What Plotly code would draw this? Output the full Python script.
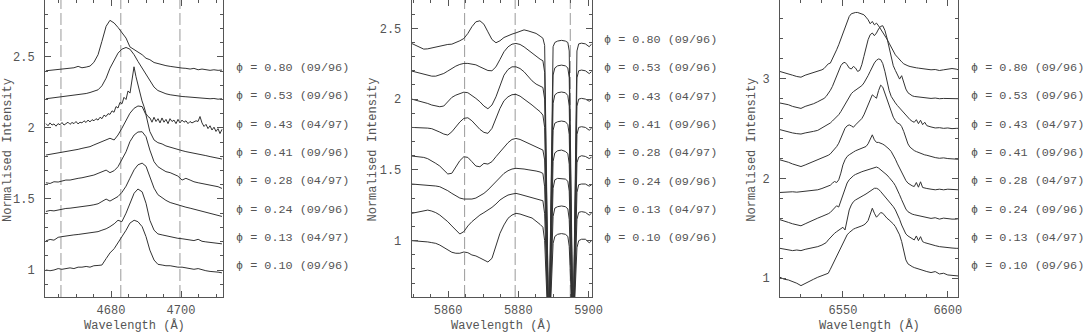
import plotly.graph_objects as go

W, H = 1084, 335
FONT = "Liberation Mono, DejaVu Sans Mono"
INK = "#333333"
FRAME = "#555555"
TEXT = "#555555"
DASH = "#9a9a9a"

# spectra listed from the bottom one to the top one
PHASES = ["0.10", "0.13", "0.24", "0.28", "0.41", "0.43", "0.53", "0.80"]
EPOCHS = ["09/96", "04/97", "09/96", "04/97", "09/96", "04/97", "09/96", "09/96"]

# ---------------- He II 4686 ----------------
WAVE_HEII = [4661.4, 4662.6, 4663.7, 4664.9, 4666.0, 4667.1, 4668.3, 4669.4, 4670.6, 4671.7,
             4672.9, 4674.0, 4675.1, 4676.3, 4677.4, 4678.6, 4679.7, 4680.9, 4682.0, 4683.1,
             4684.3, 4685.4, 4686.6, 4687.7, 4688.9, 4690.0, 4691.1, 4692.3, 4693.4, 4694.6,
             4695.7, 4696.9, 4698.0, 4699.1, 4700.3, 4701.4, 4702.6, 4703.7, 4704.9, 4706.0,
             4707.1, 4708.3, 4709.4, 4710.6, 4711.7]
WAVE_HEII_FINE = [4661.43, 4662.00, 4662.57, 4663.14, 4663.71, 4664.29, 4664.86, 4665.43, 4666.00, 4666.57,
                  4667.14, 4667.71, 4668.29, 4668.86, 4669.43, 4670.00, 4670.57, 4671.14, 4671.71, 4672.29,
                  4672.86, 4673.43, 4674.00, 4674.57, 4675.14, 4675.71, 4676.29, 4676.86, 4677.43, 4678.00,
                  4678.57, 4679.14, 4679.71, 4680.29, 4680.86, 4681.43, 4682.00, 4682.57, 4683.14, 4683.71,
                  4684.29, 4684.86, 4685.43, 4686.00, 4686.57, 4687.14, 4687.71, 4688.29, 4688.86, 4689.43,
                  4690.00, 4690.57, 4691.14, 4691.71, 4692.29, 4692.86, 4693.43, 4694.00, 4694.57, 4695.14,
                  4695.71, 4696.29, 4696.86, 4697.43, 4698.00, 4698.57, 4699.14, 4699.71, 4700.29, 4700.86,
                  4701.43, 4702.00, 4702.57, 4703.14, 4703.71, 4704.29, 4704.86, 4705.43, 4706.00, 4706.57,
                  4707.14, 4707.71, 4708.29, 4708.86, 4709.43, 4710.00, 4710.57, 4711.14, 4711.71]

HEII_010 = [1.00, 0.995, 1.00, 1.01, 1.005, 1.01, 1.015, 1.01, 1.02, 1.02,
            1.025, 1.02, 1.03, 1.032, 1.035, 1.08, 1.12, 1.15, 1.19, 1.235,
            1.28, 1.33, 1.35, 1.34, 1.305, 1.235, 1.14, 1.07, 1.04, 1.035,
            1.03, 1.03, 1.025, 1.02, 1.02, 1.015, 1.01, 1.005, 1.01, 1.0,
            0.995, 0.99, 0.99, 0.985, 0.98]
HEII_013 = [1.005, 1.015, 1.01, 1.03, 1.035, 1.04, 1.045, 1.047, 1.05, 1.054,
            1.06, 1.06, 1.065, 1.07, 1.08, 1.09, 1.105, 1.125, 1.15, 1.14,
            1.2, 1.27, 1.34, 1.37, 1.35, 1.27, 1.15, 1.08, 1.054, 1.047,
            1.04, 1.035, 1.03, 1.023, 1.02, 1.016, 1.012, 1.007, 1.016, 1.002,
            0.998, 0.995, 0.993, 0.99, 0.984]
HEII_024 = [1.012, 1.019, 1.016, 1.023, 1.028, 1.033, 1.035, 1.038, 1.042, 1.047,
            1.05, 1.054, 1.059, 1.066, 1.082, 1.099, 1.085, 1.1, 1.117, 1.146,
            1.19, 1.246, 1.305, 1.34, 1.352, 1.33, 1.26, 1.176, 1.13, 1.106,
            1.09, 1.075, 1.066, 1.056, 1.047, 1.042, 1.035, 1.028, 1.023, 1.014,
            1.005, 1.0, 0.995, 0.986, 0.977]
HEII_028 = [1.014, 1.009, 1.021, 1.019, 1.026, 1.033, 1.033, 1.04, 1.045, 1.049,
            1.056, 1.061, 1.068, 1.08, 1.092, 1.103, 1.085, 1.099, 1.127, 1.174,
            1.232, 1.303, 1.35, 1.371, 1.373, 1.338, 1.244, 1.162, 1.127, 1.108,
            1.092, 1.085, 1.075, 1.061, 1.033, 1.045, 1.033, 1.021, 1.014, 1.009,
            1.002, 0.998, 0.991, 0.986, 0.974]
HEII_041 = [1.009, 1.014, 1.021, 1.026, 1.026, 1.033, 1.04, 1.045, 1.049, 1.056,
            1.063, 1.068, 1.08, 1.092, 1.103, 1.12, 1.127, 1.115, 1.15, 1.197,
            1.256, 1.303, 1.338, 1.354, 1.35, 1.291, 1.174, 1.115, 1.096, 1.087,
            1.073, 1.063, 1.054, 1.045, 1.04, 1.033, 1.028, 1.021, 1.016, 1.009,
            1.005, 0.998, 0.993, 0.988, 0.981]
# the 04/97 spectrum is noisier, so it is kept on a finer grid
HEII_043 = [1.030, 1.015, 1.035, 1.020, 1.028, 1.012, 1.030, 1.022, 1.038, 1.020,
            1.030, 1.040, 1.025, 1.038, 1.030, 1.045, 1.028, 1.040, 1.035, 1.050,
            1.038, 1.055, 1.042, 1.058, 1.050, 1.065, 1.055, 1.075, 1.065, 1.090,
            1.080, 1.100, 1.095, 1.120, 1.110, 1.150, 1.140, 1.180, 1.170, 1.215,
            1.200, 1.260, 1.245, 1.330, 1.430, 1.360, 1.300, 1.250, 1.190, 1.150,
            1.100, 1.080, 1.070, 1.040, 1.075, 1.045, 1.065, 1.035, 1.070, 1.040,
            1.060, 1.030, 1.065, 1.045, 1.055, 1.030, 1.060, 1.035, 1.055, 1.040,
            1.050, 1.030, 1.045, 1.035, 1.040, 1.050, 1.045, 1.080, 1.035, 1.010,
            1.025, 0.995, 1.015, 0.985, 1.005, 0.975, 0.995, 0.960, 0.990]
HEII_053 = [1.005, 1.009, 1.012, 1.014, 1.016, 1.021, 1.023, 1.028, 1.033, 1.038,
            1.042, 1.049, 1.056, 1.068, 1.096, 1.15, 1.22, 1.279, 1.326, 1.354,
            1.366, 1.354, 1.315, 1.268, 1.22, 1.174, 1.127, 1.087, 1.063, 1.049,
            1.04, 1.033, 1.028, 1.023, 1.021, 1.019, 1.016, 1.012, 1.014, 1.009,
            1.007, 1.005, 1.007, 1.002, 1.005]
HEII_080 = [1.002, 1.005, 1.009, 1.012, 1.014, 1.016, 1.019, 1.023, 1.033, 1.023,
            1.028, 1.035, 1.061, 1.115, 1.209, 1.315, 1.357, 1.338, 1.307, 1.268,
            1.232, 1.17, 1.15, 1.135, 1.115, 1.09, 1.08, 1.06, 1.052, 1.045,
            1.038, 1.033, 1.028, 1.023, 1.021, 1.019, 1.014, 1.019, 1.009, 1.014,
            1.009, 1.005, 1.009, 1.005, 1.007]
HEII_OFFSETS = [0.0, 0.2, 0.4, 0.6, 0.8, 1.0, 1.2, 1.4]
HEII_MARKS = [4665.7, 4682.8, 4699.7]

# ---------------- He I 5876 + Na D ----------------
WAVE_HEI = [5849.63, 5850.77, 5851.91, 5853.06, 5854.20, 5855.34, 5856.49, 5857.63, 5858.77, 5859.91,
            5861.06, 5862.20, 5863.34, 5864.49, 5865.63, 5866.77, 5867.91, 5869.06, 5870.20, 5871.34,
            5872.49, 5873.63, 5874.77, 5875.91, 5877.06, 5878.20, 5879.34, 5880.49, 5881.63, 5882.77,
            5883.91, 5885.06, 5886.20,
            5887.0, 5887.5, 5888.7, 5889.9, 5890.4, 5891.2, 5892.3, 5893.4, 5894.1, 5894.5,
            5895.6, 5896.7, 5897.2, 5898.0, 5899.1, 5900.2, 5900.9]

HEI_010 = [1.0, 0.998, 1.0, 0.995, 0.991, 0.986, 0.981, 0.969, 0.953, 0.934,
           0.918, 0.911, 0.911, 0.92, 0.915, 0.899, 0.892, 0.878, 0.861, 0.849,
           0.875, 0.958, 1.052, 1.111, 1.158, 1.181, 1.193, 1.188, 1.181, 1.169,
           1.16, 1.14, 1.115,
           1.095, 1.0, 0.25, 0.98, 1.03, 1.045, 1.05, 1.045, 1.03, 0.96,
           0.3, 0.95, 1.0, 1.01, 1.01, 0.985, 1.0]
HEI_013 = [0.993, 0.998, 1.005, 1.012, 1.016, 1.009, 0.998, 0.981, 0.958, 0.934,
           0.904, 0.875, 0.847, 0.864, 0.904, 0.934, 0.958, 0.981, 0.998, 1.016,
           1.035, 1.059, 1.087, 1.106, 1.122, 1.129, 1.134, 1.127, 1.12, 1.111,
           1.106, 1.099, 1.092,
           1.082, 0.99, 0.05, 0.97, 1.03, 1.04, 1.045, 1.04, 1.025, 0.95,
           0.1, 0.95, 1.0, 1.005, 1.0, 0.98, 0.995]
HEI_024 = [1.0, 0.998, 0.998, 0.993, 0.991, 0.988, 0.986, 0.981, 0.969, 0.953,
           0.934, 0.915, 0.901, 0.894, 0.892, 0.894, 0.901, 0.915, 0.934, 0.958,
           0.986, 1.016, 1.047, 1.075, 1.094, 1.106, 1.111, 1.111, 1.106, 1.101,
           1.099, 1.092, 1.085,
           1.075, 0.98, -0.1, 0.97, 1.03, 1.04, 1.04, 1.035, 1.02, 0.95,
           -0.15, 0.94, 0.995, 1.0, 1.0, 0.985, 0.995]
HEI_028 = [0.998, 0.995, 0.993, 0.988, 0.979, 0.965, 0.946, 0.927, 0.899, 0.871,
           0.876, 0.922, 0.965, 0.993, 0.988, 0.958, 0.927, 0.922, 0.946, 0.941,
           0.958, 0.993, 1.028, 1.064, 1.092, 1.115, 1.122, 1.115, 1.101, 1.087,
           1.075, 1.062, 1.05,
           1.04, 0.97, -0.35, 0.96, 1.02, 1.035, 1.04, 1.03, 1.015, 0.94,
           -0.3, 0.95, 0.99, 1.0, 0.995, 0.98, 0.99]
HEI_041 = [1.0, 1.0, 0.998, 0.998, 0.995, 0.991, 0.981, 0.967, 0.953, 0.946,
           0.969, 1.005, 1.038, 1.064, 1.068, 1.047, 1.016, 0.986, 0.965, 0.958,
           0.993, 1.064, 1.134, 1.188, 1.216, 1.231, 1.233, 1.221, 1.202, 1.181,
           1.158, 1.134, 1.111,
           1.087, 1.0, -0.5, 0.98, 1.03, 1.04, 1.045, 1.04, 1.02, 0.95,
           -0.55, 0.95, 1.0, 1.005, 1.0, 0.98, 0.995]
HEI_043 = [1.0, 0.993, 0.986, 0.979, 0.969, 0.958, 0.951, 0.946, 0.951, 0.981,
           1.012, 1.028, 1.04, 1.049, 1.045, 1.028, 1.005, 0.981, 0.951, 0.932,
           0.958, 1.016, 1.099, 1.169, 1.209, 1.228, 1.228, 1.216, 1.193, 1.162,
           1.129, 1.106, 1.092,
           1.082, 1.0, -0.75, 0.97, 1.03, 1.045, 1.05, 1.045, 1.025, 0.95,
           -0.7, 0.95, 1.0, 1.005, 1.0, 0.985, 0.995]
HEI_053 = [0.998, 0.991, 0.981, 0.974, 0.967, 0.962, 0.962, 0.969, 0.981, 0.998,
           1.016, 1.033, 1.045, 1.052, 1.052, 1.049, 1.042, 1.028, 1.014, 1.002,
           1.0, 1.028, 1.08, 1.134, 1.169, 1.188, 1.193, 1.186, 1.169, 1.146,
           1.122, 1.099, 1.082,
           1.071, 0.99, -0.9, 0.97, 1.02, 1.035, 1.04, 1.035, 1.02, 0.95,
           -0.95, 0.95, 1.0, 1.005, 1.0, 0.98, 0.995]
HEI_080 = [0.993, 0.979, 0.962, 0.953, 0.955, 0.962, 0.969, 0.976, 0.981, 0.986,
           0.988, 0.998, 1.012, 1.028, 1.064, 1.111, 1.146, 1.153, 1.129, 1.075,
           1.021, 0.998, 1.012, 1.035, 1.049, 1.059, 1.068, 1.08, 1.089, 1.082,
           1.071, 1.064, 1.045,
           1.03, 0.98, -1.15, 0.97, 1.0, 1.01, 1.015, 1.01, 1.0, 0.94,
           -1.1, 0.94, 0.99, 0.995, 0.99, 0.97, 0.99]
HEI_OFFSETS = [0.0, 0.2, 0.4, 0.6, 0.8, 1.0, 1.2, 1.4]
HEI_MARKS = [5864.7, 5879.1, 5894.8]

# ---------------- H alpha ----------------
WAVE_HA = [6520, 6522, 6524, 6526, 6528, 6530, 6532, 6534, 6536, 6538, 6540,
           6541, 6542, 6543, 6544, 6545, 6546, 6547, 6548, 6549, 6550,
           6551, 6552, 6553, 6554, 6555, 6556, 6557, 6558, 6559, 6560,
           6561, 6562, 6563, 6564, 6565, 6566, 6567, 6568, 6569, 6570,
           6571, 6572, 6573, 6574, 6575, 6576, 6577, 6578, 6579, 6580,
           6581, 6582, 6583, 6584, 6585, 6586, 6587, 6588, 6589, 6590,
           6592, 6594, 6596, 6598, 6600, 6602, 6604, 6605]

HA_010 = [1.01, 0.99, 0.983, 0.967, 0.95, 0.926, 0.95, 0.973, 0.99, 1.01, 1.023,
          1.03, 1.043, 1.05, 1.09, 1.134, 1.177, 1.224, 1.268, 1.311, 1.358,
          1.401, 1.435, 1.458, 1.478, 1.492, 1.502, 1.508, 1.518, 1.525, 1.535,
          1.552, 1.579, 1.635, 1.702, 1.652, 1.612, 1.635, 1.659, 1.652, 1.625,
          1.602, 1.585, 1.569, 1.545, 1.518, 1.478, 1.435, 1.368, 1.268, 1.184,
          1.144, 1.127, 1.117, 1.107, 1.1, 1.09, 1.085, 1.077, 1.072, 1.067,
          1.057, 1.067, 1.043, 1.05, 1.033, 1.03, 1.023, 1.023]
HA_013 = [1.0, 0.99, 0.983, 0.977, 0.983, 0.977, 0.99, 0.997, 1.01, 1.017, 1.033,
          1.043, 1.057, 1.084, 1.11, 1.134, 1.151, 1.167, 1.184, 1.201, 1.211,
          1.184, 1.301, 1.385, 1.435, 1.468, 1.485, 1.495, 1.505, 1.518, 1.533,
          1.545, 1.559, 1.579, 1.592, 1.602, 1.602, 1.592, 1.569, 1.545, 1.518,
          1.492, 1.468, 1.445, 1.418, 1.385, 1.344, 1.291, 1.234, 1.184, 1.144,
          1.124, 1.11, 1.1, 1.084, 1.124, 1.077, 1.117, 1.067, 1.057, 1.05,
          1.037, 1.027, 1.017, 1.01, 1.007, 1.003, 1.0, 1.0]
HA_024 = [0.987, 0.97, 0.96, 0.946, 0.936, 0.926, 0.946, 0.967, 0.987, 1.003, 1.02,
          1.027, 1.037, 1.047, 1.06, 1.08, 1.104, 1.127, 1.114, 1.171, 1.237,
          1.304, 1.355, 1.388, 1.411, 1.428, 1.441, 1.452, 1.462, 1.468, 1.475,
          1.482, 1.488, 1.495, 1.505, 1.515, 1.515, 1.505, 1.488, 1.472, 1.455,
          1.435, 1.411, 1.388, 1.361, 1.328, 1.288, 1.237, 1.187, 1.137, 1.094,
          1.067, 1.054, 1.043, 1.037, 1.033, 1.027, 1.023, 1.02, 1.017, 1.013,
          1.0, 1.007, 0.993, 1.003, 0.997, 0.993, 0.993, 0.997]
HA_028 = [0.96, 0.963, 0.96, 0.967, 0.963, 0.967, 0.97, 0.977, 0.98, 0.987, 1.0,
          1.007, 1.013, 1.02, 1.033, 1.054, 1.07, 1.06, 1.087, 1.154, 1.237,
          1.288, 1.321, 1.338, 1.355, 1.365, 1.378, 1.388, 1.398, 1.405, 1.411,
          1.421, 1.448, 1.495, 1.538, 1.488, 1.462, 1.462, 1.455, 1.445, 1.431,
          1.415, 1.395, 1.371, 1.338, 1.294, 1.247, 1.204, 1.161, 1.12, 1.08,
          1.054, 1.037, 1.027, 1.02, 1.06, 1.013, 1.067, 1.01, 1.003, 1.0,
          0.993, 0.987, 0.993, 0.987, 0.993, 0.99, 0.987, 0.987]
HA_041 = [0.987, 0.977, 0.963, 0.946, 0.93, 0.92, 0.936, 0.953, 0.97, 0.987, 1.003,
          1.013, 1.02, 1.033, 1.047, 1.07, 1.094, 1.12, 1.154, 1.204, 1.261,
          1.304, 1.328, 1.338, 1.328, 1.314, 1.338, 1.361, 1.381, 1.401, 1.438,
          1.488, 1.548, 1.605, 1.639, 1.622, 1.605, 1.682, 1.736, 1.716, 1.656,
          1.589, 1.522, 1.462, 1.415, 1.381, 1.355, 1.348, 1.321, 1.271, 1.204,
          1.147, 1.114, 1.094, 1.08, 1.07, 1.06, 1.054, 1.047, 1.037, 1.033,
          1.02, 1.01, 1.003, 1.007, 1.0, 0.997, 0.993, 0.993]
HA_043 = [0.99, 0.977, 0.963, 0.957, 0.95, 0.946, 0.957, 0.963, 0.973, 0.983, 1.007,
          1.017, 1.03, 1.043, 1.057, 1.077, 1.097, 1.117, 1.14, 1.171, 1.207,
          1.251, 1.291, 1.324, 1.351, 1.371, 1.385, 1.398, 1.411, 1.431, 1.458,
          1.492, 1.532, 1.575, 1.619, 1.659, 1.686, 1.699, 1.692, 1.652, 1.575,
          1.475, 1.385, 1.324, 1.284, 1.258, 1.231, 1.207, 1.184, 1.157, 1.13,
          1.107, 1.09, 1.074, 1.064, 1.09, 1.05, 1.084, 1.04, 1.064, 1.03,
          1.017, 1.007, 1.01, 1.003, 1.007, 1.0, 1.003, 1.003]
HA_053 = [0.957, 0.95, 0.94, 0.923, 0.913, 0.903, 0.923, 0.936, 0.95, 0.97, 0.99,
          1.003, 1.023, 1.05, 1.084, 1.124, 1.174, 1.231, 1.291, 1.331, 1.358,
          1.365, 1.341, 1.308, 1.298, 1.324, 1.308, 1.274, 1.284, 1.341, 1.425,
          1.508, 1.592, 1.642, 1.659, 1.632, 1.659, 1.699, 1.726, 1.732, 1.686,
          1.609, 1.508, 1.408, 1.331, 1.284, 1.241, 1.197, 1.231, 1.157, 1.097,
          1.06, 1.04, 1.03, 1.023, 1.02, 1.017, 1.013, 1.01, 1.007, 1.007,
          1.003, 1.007, 1.0, 1.003, 1.0, 0.997, 1.0, 1.0]
HA_080 = [0.973, 0.963, 0.95, 0.936, 0.923, 0.916, 0.936, 0.95, 0.963, 0.973, 0.99,
          1.003, 1.023, 1.05, 1.057, 1.097, 1.14, 1.191, 1.241, 1.298, 1.358,
          1.418, 1.475, 1.525, 1.552, 1.562, 1.565, 1.565, 1.559, 1.552, 1.542,
          1.518, 1.492, 1.452, 1.475, 1.441, 1.458, 1.431, 1.398, 1.375, 1.341,
          1.298, 1.258, 1.217, 1.174, 1.14, 1.117, 1.09, 1.07, 1.05, 1.037,
          1.03, 1.023, 1.017, 1.013, 1.01, 1.007, 1.003, 1.0, 1.0, 0.997,
          0.99, 0.993, 0.983, 0.99, 0.997, 1.003, 0.997, 0.99]
HA_OFFSETS = [0.0, 0.3, 0.6, 0.9, 1.2, 1.5, 1.8, 2.1]

panels = [
    dict(xa="x", ya="y",
         waves=[WAVE_HEII] * 5 + [WAVE_HEII_FINE] + [WAVE_HEII] * 2,
         spectra=[HEII_010, HEII_013, HEII_024, HEII_028, HEII_041, HEII_043, HEII_053, HEII_080],
         offsets=HEII_OFFSETS, marks=HEII_MARKS,
         box=(45, 223), xrange=[4661.14, 4712.0], yrange=[0.81, 2.90],
         dx=20, mx=5, dy=0.5, my=0.1,
         label_x=235, label_y0=266.3, ytitle_x=8),
    dict(xa="x2", ya="y2",
         waves=[WAVE_HEI] * 8,
         spectra=[HEI_010, HEI_013, HEI_024, HEI_028, HEI_041, HEI_043, HEI_053, HEI_080],
         offsets=HEI_OFFSETS, marks=HEI_MARKS,
         box=(411.7, 591.7), xrange=[5849.63, 5900.9], yrange=[0.602, 2.70],
         dx=20, mx=5, dy=0.5, my=0.1,
         label_x=603, label_y0=238.3, ytitle_x=372.5),
    dict(xa="x3", ya="y3",
         waves=[WAVE_HA] * 8,
         spectra=[HA_010, HA_013, HA_024, HA_028, HA_041, HA_043, HA_053, HA_080],
         offsets=HA_OFFSETS, marks=[],
         box=(780, 958.3), xrange=[6520, 6605], yrange=[0.812, 3.79],
         dx=50, mx=10, dy=1, my=0.2,
         label_x=970, label_y0=266.3, ytitle_x=751.7),
]

fig = go.Figure()

Y_DOMAIN = [(H - 297) / H, 1.0]


def axis_style(dtick, minor_dtick, rng, standoff):
    return dict(
        range=rng, dtick=dtick, tick0=0, automargin=False,
        showline=True, linecolor=FRAME, linewidth=1, mirror="ticks",
        ticks="inside", ticklen=6, tickwidth=1, tickcolor=FRAME,
        showgrid=False, zeroline=False, ticklabelstandoff=standoff,
        tickfont=dict(family=FONT, size=12, color=TEXT),
        minor=dict(dtick=minor_dtick, ticks="inside", ticklen=3,
                   tickcolor=FRAME, showgrid=False),
    )


for k, p in enumerate(panels):
    for wave, flux, off in zip(p["waves"], p["spectra"], p["offsets"]):
        fig.add_trace(go.Scatter(
            x=wave, y=[v + off for v in flux], mode="lines",
            line=dict(color=INK, width=1), hoverinfo="skip",
            xaxis=p["xa"], yaxis=p["ya"], showlegend=False,
        ))

    for m in p["marks"]:
        fig.add_shape(type="line", xref=p["xa"], yref=f"{p['ya']} domain",
                      x0=m, x1=m, y0=0, y1=1, layer="below",
                      line=dict(color=DASH, width=1, dash="12px,4px"))

    suffix = "" if k == 0 else str(k + 1)
    xa = axis_style(p["dx"], p["mx"], p["xrange"], 2)
    xa.update(domain=[p["box"][0] / W, p["box"][1] / W], anchor=p["ya"])
    ya = axis_style(p["dy"], p["my"], p["yrange"], 7)
    ya.update(domain=Y_DOMAIN, anchor=p["xa"])
    fig.update_layout({f"xaxis{suffix}": xa, f"yaxis{suffix}": ya})

    # phase labels next to each spectrum
    for i, (ph, ep) in enumerate(zip(PHASES, EPOCHS)):
        fig.add_annotation(
            text=f"\u03d5 = {ph} ({ep})", xref="paper", yref="paper",
            x=p["label_x"] / W, y=1 - (p["label_y0"] - 28.33 * i) / H,
            xanchor="left", yanchor="middle", showarrow=False, borderpad=0,
            font=dict(family=FONT, size=11.8, color=TEXT),
        )

    cx = (p["box"][0] + p["box"][1]) / 2
    fig.add_annotation(text="Wavelength (\u00c5)", xref="paper", yref="paper",
                       x=cx / W, y=1 - 325.5 / H, xanchor="center", yanchor="middle",
                       showarrow=False, font=dict(family=FONT, size=12, color=TEXT))
    fig.add_annotation(text="Normalised Intensity", xref="paper", yref="paper",
                       x=p["ytitle_x"] / W, y=1 - 150 / H, textangle=-90,
                       xanchor="center", yanchor="middle",
                       showarrow=False, font=dict(family=FONT, size=12, color=TEXT))

fig.update_layout(
    width=W, height=H, autosize=False,
    margin=dict(l=0, r=0, t=0, b=0, autoexpand=False),
    plot_bgcolor="white", paper_bgcolor="white", showlegend=False,
)

fig.write_html(
    "out.html",
    config={"displayModeBar": False, "responsive": False},
    post_script=("document.body.style.margin='0';"
                 "document.body.style.overflow='hidden';"
                 "document.documentElement.style.overflow='hidden';"),
)
